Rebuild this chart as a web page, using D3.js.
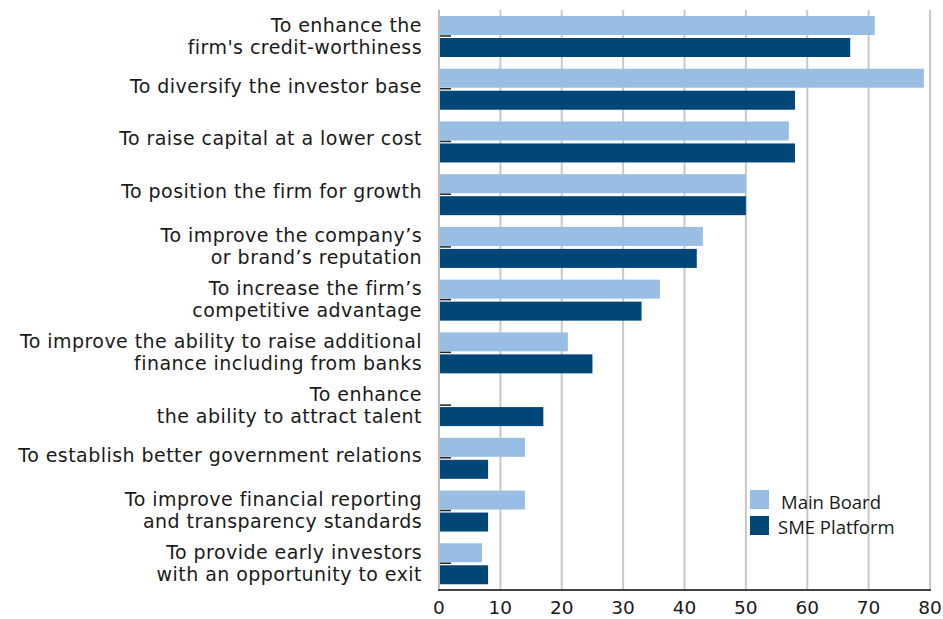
<!DOCTYPE html>
<html>
<head>
<meta charset="utf-8">
<script src="https://cdn.jsdelivr.net/npm/d3@7"></script>
<style>
  body { margin: 0; background: #fff; }
  svg { display: block; }
</style>
</head>
<body>
<div id="chart"></div>
<script>
// reasons for listing, two boards
var categories = [
  ["To enhance the", "firm's credit-worthiness"],
  ["To diversify the investor base"],
  ["To raise capital at a lower cost"],
  ["To position the firm for growth"],
  ["To improve the company\u2019s", "or brand\u2019s reputation"],
  ["To increase the firm\u2019s", "competitive advantage"],
  ["To improve the ability to raise additional", "finance including from banks"],
  ["To enhance", "the ability to attract talent"],
  ["To establish better government relations"],
  ["To improve financial reporting", "and transparency standards"],
  ["To provide early investors", "with an opportunity to exit"]
];
var mainBoard = [71, 79, 57, 50, 43, 36, 21, 0, 14, 14, 7];
var smePlatform = [67, 58, 58, 50, 42, 33, 25, 17, 8, 8, 8];
var seriesNames = ["Main Board", "SME Platform"];
var xTicks = [0, 10, 20, 30, 40, 50, 60, 70, 80];

var width = 943, height = 619;
var mLeft = 439, mRight = 930, mTop = 10, mBottom = 590;
var colors = ["#99bee4", "#004677"];
var labelFont = "DejaVu Sans, sans-serif";

var svg = d3.select("#chart").append("svg")
  .attr("width", width).attr("height", height);

var x = d3.scaleLinear().domain([0, 80]).range([mLeft, mRight]);
var y = d3.scaleBand().domain(d3.range(categories.length)).range([mTop, mBottom]);

// gridlines
svg.append("g").selectAll("line").data(xTicks).enter().append("line")
  .attr("x1", function(d) { return x(d); })
  .attr("x2", function(d) { return x(d); })
  .attr("y1", mTop).attr("y2", mBottom)
  .attr("stroke", "#c8c8c8").attr("stroke-width", 2);

var barH = 19, gap = 3, off = 6;
var rows = svg.append("g").selectAll("g").data(categories).enter().append("g")
  .attr("transform", function(d, i) { return "translate(0," + y(i) + ")"; });

rows.append("rect")
  .attr("x", x(0)).attr("y", off)
  .attr("width", function(d, i) { return x(mainBoard[i]) - x(0); })
  .attr("height", barH).attr("fill", colors[0]);

rows.append("rect")
  .attr("x", x(0)).attr("y", off + barH + gap)
  .attr("width", function(d, i) { return x(smePlatform[i]) - x(0); })
  .attr("height", barH).attr("fill", colors[1]);

// small dash between the bars
rows.append("line")
  .attr("x1", x(0)).attr("x2", x(0) + 12)
  .attr("y1", off + barH + 1).attr("y2", off + barH + 1)
  .attr("stroke", "#222").attr("stroke-width", 1.5);

// category labels
rows.append("text")
  .attr("text-anchor", "end")
  .attr("font-family", labelFont)
  .attr("font-size", 19)
  .attr("letter-spacing", 0.45)
  .attr("fill", "#1a1a1a")
  .each(function(d) {
    var t = d3.select(this);
    var mid = off + barH + gap / 2;
    var y0 = d.length === 1 ? mid + 3.5 : mid - 5;
    d.forEach(function(line, j) {
      t.append("tspan").attr("x", 422).attr("y", y0 + j * 22).text(line);
    });
  });

// axis lines
svg.append("line").attr("x1", mLeft).attr("x2", mLeft).attr("y1", mTop).attr("y2", mBottom)
  .attr("stroke", "#bdbdbd").attr("stroke-width", 2);
svg.append("line").attr("x1", mLeft - 1).attr("x2", mRight + 1).attr("y1", mBottom).attr("y2", mBottom)
  .attr("stroke", "#444").attr("stroke-width", 2);

// tick labels
svg.append("g").selectAll("text").data(xTicks).enter().append("text")
  .attr("x", function(d) { return x(d); })
  .attr("y", 614)
  .attr("text-anchor", "middle")
  .attr("font-family", labelFont)
  .attr("font-size", 18.5)
  .attr("fill", "#1a1a1a")
  .text(function(d) { return d; });

// legend
var legend = svg.append("g").attr("transform", "translate(750,490)");
seriesNames.forEach(function(name, i) {
  legend.append("rect").attr("x", 0).attr("y", i * 26)
    .attr("width", 19).attr("height", 19).attr("fill", colors[i]);
  legend.append("text").attr("x", i === 0 ? 31 : 28).attr("y", i * 25 + 19)
    .attr("font-family", "Open Sans, sans-serif")
    .attr("font-size", 18.5)
    .attr("fill", "#1a1a1a")
    .text(name);
});
</script>
</body>
</html>
